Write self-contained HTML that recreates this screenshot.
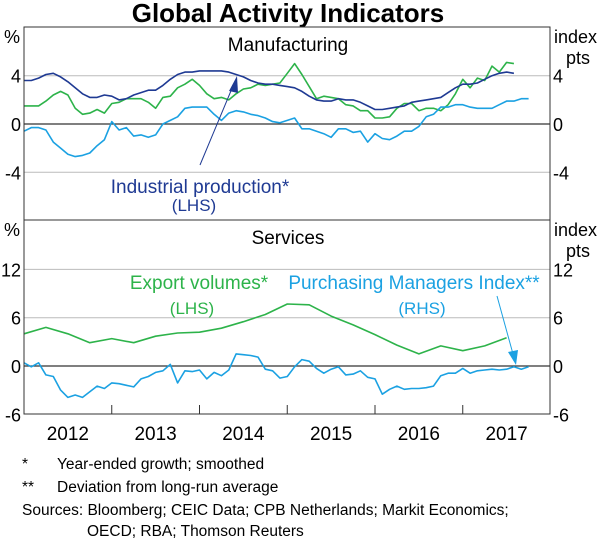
<!DOCTYPE html>
<html><head><meta charset="utf-8"><style>
body{margin:0;background:#fff;}
svg{display:block;font-family:"Liberation Sans",sans-serif;}
</style></head><body>
<svg id="c" width="600" height="539" viewBox="0 0 600 539">
<text x="288" y="22" text-anchor="middle" font-size="26" font-weight="bold">Global Activity Indicators</text>
<g id="grid"></g>
<g id="series"></g>
<rect x="24" y="27" width="526" height="387" fill="none" stroke="#333" stroke-width="1"/>
<line x1="24" y1="220" x2="550" y2="220" stroke="#333"/>
<g id="labels" font-size="18"></g>
<text x="288" y="51" text-anchor="middle" font-size="19">Manufacturing</text>
<text x="288" y="244" text-anchor="middle" font-size="19">Services</text>
<text x="4" y="43" font-size="18">%</text>
<text x="4" y="236" font-size="18">%</text>
<text x="554" y="43" font-size="18">index</text>
<text x="566" y="64" font-size="18">pts</text>
<text x="554" y="236" font-size="18">index</text>
<text x="566" y="257" font-size="18">pts</text>
<text x="200" y="193" text-anchor="middle" font-size="19" fill="#1f3a93">Industrial production*</text>
<text x="194" y="211" text-anchor="middle" font-size="17" fill="#1f3a93">(LHS)</text>
<line x1="200" y1="165" x2="233" y2="86" stroke="#1f3a93" stroke-width="1"/>
<polygon points="237,76 229,91 238,93" fill="#1f3a93"/>
<text x="199" y="289" text-anchor="middle" font-size="19" fill="#2db34a">Export volumes*</text>
<text x="192" y="314" text-anchor="middle" font-size="17" fill="#2db34a">(LHS)</text>
<text x="414" y="289" text-anchor="middle" font-size="19" fill="#1ba1e2">Purchasing Managers Index**</text>
<text x="422" y="314" text-anchor="middle" font-size="17" fill="#1ba1e2">(RHS)</text>
<line x1="497" y1="296" x2="513" y2="354" stroke="#1ba1e2"/>
<polygon points="516,365 508,352 518,350" fill="#1ba1e2"/>
<g font-size="15.5">
<text x="22" y="469">*</text>
<text x="57" y="469">Year-ended growth; smoothed</text>
<text x="22" y="492">**</text>
<text x="57" y="492">Deviation from long-run average</text>
<text x="22" y="515">Sources: Bloomberg; CEIC Data; CPB Netherlands; Markit Economics;</text>
<text x="87" y="536">OECD; RBA; Thomson Reuters</text>
</g>
</svg>
<script>
const years=["2012","2013","2014","2015","2016","2017"];
const topTicks=[4,0,-4];
const botTicks=[12,6,0,-6];
const ipVals=[3.6,3.6,3.8,4.1,4.2,3.9,3.5,3.0,2.5,2.2,2.2,2.4,2.3,2.0,2.1,2.4,2.6,2.8,2.8,3.2,3.7,4.1,4.3,4.3,4.4,4.4,4.4,4.4,4.3,4.1,3.9,3.6,3.4,3.3,3.3,3.2,3.1,3.0,2.7,2.3,2.0,1.9,1.9,2.1,2.0,2.0,1.8,1.5,1.2,1.2,1.3,1.4,1.5,1.8,1.9,2.0,2.1,2.2,2.6,3.0,3.3,3.3,3.4,3.7,4.0,4.2,4.3,4.2];
const mfgExpVals=[1.5,1.5,1.5,1.9,2.4,2.7,2.4,1.3,0.8,0.9,1.2,0.9,1.7,1.8,2.1,2.1,2.1,1.8,1.3,2.2,2.3,3.0,3.3,3.7,3.2,2.5,2.1,2.2,2.0,2.5,2.9,3.0,3.3,3.2,3.3,3.4,4.2,5.0,4.1,3.1,2.1,2.3,2.2,2.1,1.6,1.5,1.1,1.1,0.5,0.5,0.6,1.3,1.7,1.7,1.1,1.3,1.3,1.1,1.6,2.5,3.7,3.0,3.8,3.6,4.8,4.3,5.1,5.0];
const mfgPmiVals=[-0.6,-0.3,-0.3,-0.5,-1.5,-2.0,-2.5,-2.7,-2.6,-2.4,-1.8,-1.3,0.2,-0.5,-0.3,-1.0,-0.9,-1.1,-0.9,0.0,0.3,0.6,1.3,1.4,1.4,1.4,0.8,0.3,0.9,1.1,1.0,0.8,0.7,0.5,0.2,0.1,0.3,0.5,-0.4,-0.4,-0.6,-0.8,-1.1,-0.4,-0.4,-0.7,-0.6,-1.5,-0.8,-1.2,-1.3,-1.0,-0.6,-0.6,-0.2,0.6,0.8,1.4,1.4,1.6,1.6,1.4,1.3,1.3,1.3,1.6,1.9,1.9,2.1,2.1];
const svcExpVals=[4.0,4.8,4.0,2.9,3.4,2.9,3.7,4.1,4.2,4.7,5.5,6.4,7.7,7.6,6.2,5.1,3.9,2.6,1.5,2.5,1.9,2.5,3.5];
const svcPmiVals=[0.4,-0.1,0.4,-1.1,-1.3,-3.0,-3.9,-3.6,-3.9,-3.2,-2.5,-2.8,-2.1,-2.2,-2.4,-2.6,-1.6,-1.3,-0.8,-0.6,0.2,-2.1,-0.6,-0.7,-0.5,-1.6,-0.8,-1.2,-0.5,1.5,1.4,1.3,1.1,-0.4,-0.6,-1.5,-1.3,-0.1,0.8,0.6,-0.3,-0.9,-0.4,-0.1,-1.1,-1.0,-0.6,-1.4,-1.6,-3.5,-2.9,-2.5,-2.9,-2.8,-2.8,-2.7,-2.5,-1.2,-0.9,-0.9,-0.3,-0.9,-0.6,-0.5,-0.4,-0.5,-0.4,-0.1,-0.4,-0.1];

const NS="http://www.w3.org/2000/svg";
const X0=24,MONTH=7.3125;
function xm(m){return X0+m*MONTH;}
function yTop(v){return 124-v*12.07;}
function yBot(v){return 366-v*8.05;}
function mk(tag,attrs,parent){const e=document.createElementNS(NS,tag);for(const k in attrs)e.setAttribute(k,attrs[k]);parent.appendChild(e);return e;}
const grid=document.getElementById('grid'),ser=document.getElementById('series'),lab=document.getElementById('labels');

topTicks.forEach(t=>{
  const y=yTop(t);
  const g=mk('line',{x1:24,x2:550,y1:y,y2:y,stroke:t===0?'#333':'#bbb','stroke-width':t===0?1.3:1},grid);
  
  
  const l=mk('text',{x:21,y:y+7,'text-anchor':'end'},lab);l.textContent=t;
  
  
  const r=mk('text',{x:553,y:y+7},lab);r.textContent=t;
  
  
});
botTicks.forEach(t=>{
  const y=yBot(t);
  if(t!==-6){
    const g=mk('line',{x1:24,x2:550,y1:y,y2:y,stroke:t===0?'#333':'#bbb','stroke-width':t===0?1.3:1},grid);
    
    
  }
  const l=mk('text',{x:21,y:y+7,'text-anchor':'end'},lab);l.textContent=t;
  
  
  const r=mk('text',{x:553,y:y+7},lab);r.textContent=t;
  
  
});
years.forEach((yr,i)=>{
  if(i>0){
    const tk=mk('line',{x1:xm(i*12),x2:xm(i*12),y1:414,y2:405,stroke:'#333'},grid);
    
    
  }
  const t=mk('text',{x:xm(i*12+6),y:440,'text-anchor':'middle','font-size':19},lab);t.textContent=yr;
  
  
});
function line(vals,step,yf,color,name){
  const d=vals.map((v,i)=>(i?'L':'M')+xm(i*step).toFixed(1)+','+yf(v).toFixed(1)).join('');
  const p=mk('path',{d:d,fill:'none',stroke:color,'stroke-width':1.6,'stroke-linejoin':'round'},ser);
  
  
}
line(mfgExpVals,1,yTop,'#2db34a','manufacturing-export-volumes-line');
line(mfgPmiVals,1,yTop,'#1ba1e2','manufacturing-pmi-line');
line(ipVals,1,yTop,'#1f3a93','industrial-production-line');
line(svcExpVals,3,yBot,'#2db34a','services-export-volumes-line');
line(svcPmiVals,1,yBot,'#1ba1e2','services-pmi-line');
</script>
</body></html>
